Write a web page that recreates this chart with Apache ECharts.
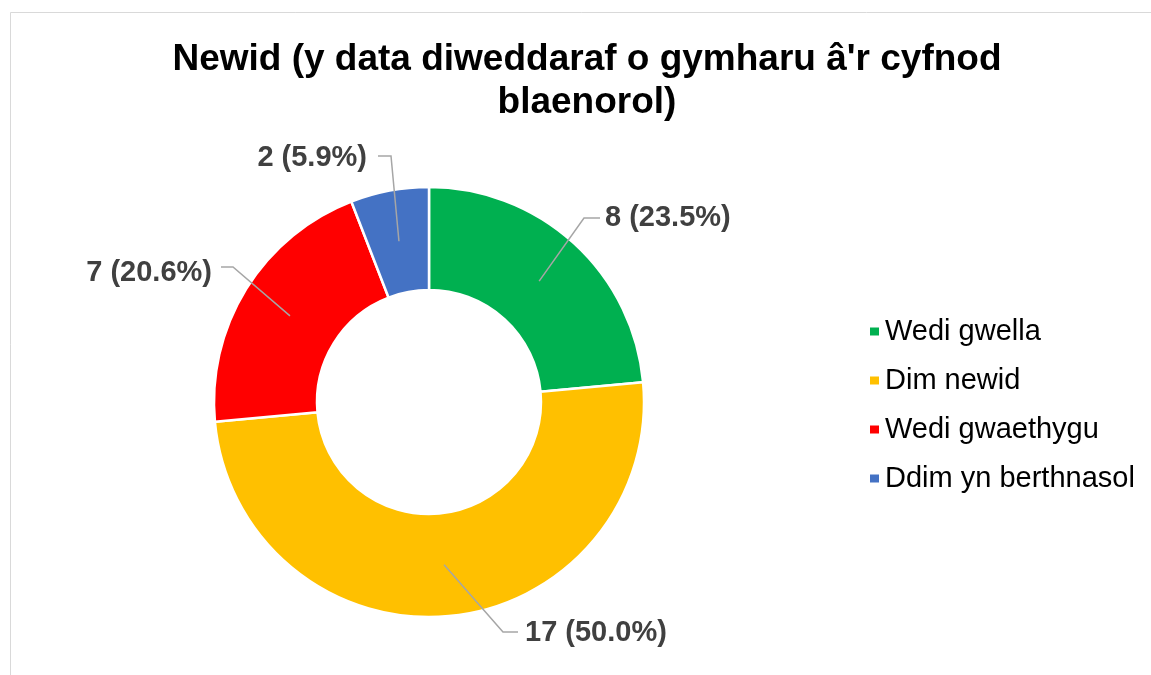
<!DOCTYPE html>
<html>
<head>
<meta charset="utf-8">
<script src="https://cdn.jsdelivr.net/npm/echarts@6/dist/echarts.min.js"></script>
<style>
  html, body { margin: 0; padding: 0; background: #fff; }
  #chart { width: 1151px; height: 675px; }
</style>
</head>
<body>
<div id="chart"></div>
<script>
const categories = ["Wedi gwella", "Dim newid", "Wedi gwaethygu", "Ddim yn berthnasol"];
const values = [8, 17, 7, 2];
const colors = ["#00B050", "#FFC000", "#FF0000", "#4472C4"];

// where each data label sits, and the elbow of its leader line
const labelPos = [
  { x: 605, y: 218, align: "left", lineEnd: [600, 218], elbow: [584, 218] },
  { x: 525, y: 633, align: "left", lineEnd: [518, 632], elbow: [503, 632] },
  { x: 212, y: 273, align: "right", lineEnd: [221, 267], elbow: [233, 267] },
  { x: 367, y: 158, align: "right", lineEnd: [378, 156], elbow: [391, 156] },
];

const center = [429, 402];
const radius = [112, 215];
const total = values.reduce((a, b) => a + b, 0);

// point in the middle of the ring at the middle angle of a slice
function midPoint(i) {
  let before = 0;
  for (let k = 0; k < i; k++) before += values[k];
  const frac = (before + values[i] / 2) / total;
  const ang = frac * Math.PI * 2;
  const r = (radius[0] + radius[1]) / 2;
  return [center[0] + r * Math.sin(ang), center[1] - r * Math.cos(ang)];
}

const chart = echarts.init(document.getElementById("chart"));

const pieData = categories.map((name, i) => ({
  name: name,
  value: values[i],
  itemStyle: { color: colors[i] },
}));

const option = {
  animation: false,
  backgroundColor: "#fff",
  graphic: [
    {
      type: "rect",
      shape: { x: 10.5, y: 12.5, width: 1300, height: 800 },
      style: { fill: "none", stroke: "#d9d9d9", lineWidth: 1 },
      silent: true,
    },
  ],
  title: {
    text: "Newid (y data diweddaraf o gymharu â'r cyfnod\nblaenorol)",
    left: 587,
    textAlign: "center",
    top: 38,
    padding: 0,
    textStyle: {
      fontFamily: "Liberation Sans",
      fontSize: 37,
      fontWeight: "bold",
      color: "#000",
      lineHeight: 43,
    },
  },
  legend: {
    orient: "vertical",
    left: 863,
    top: 312,
    icon: "rect",
    itemWidth: 11,
    itemHeight: 10,
    itemGap: 20,
    data: categories,
    textStyle: {
      fontFamily: "Liberation Sans",
      fontSize: 29,
      lineHeight: 29,
      color: "#000",
    },
  },
  series: [
    {
      // the rings
      type: "pie",
      z: 2,
      center: center,
      radius: radius,
      startAngle: 90,
      clockwise: true,
      itemStyle: { borderColor: "#fff", borderWidth: 2.5 },
      label: { show: false },
      labelLine: { show: false },
      data: pieData,
    },
    {
      // same slices, invisible, carrying labels so leader lines sit on top
      type: "pie",
      z: 3,
      silent: true,
      center: center,
      radius: radius,
      startAngle: 90,
      clockwise: true,
      avoidLabelOverlap: false,
      itemStyle: { color: "rgba(0,0,0,0)", borderWidth: 0 },
      label: {
        show: true,
        position: "outside",
        fontFamily: "Liberation Sans",
        fontSize: 29,
        fontWeight: "bold",
        color: "#404040",
        formatter: (p) => p.value + " (" + ((p.value / total) * 100).toFixed(1) + "%)",
      },
      labelLine: {
        show: true,
        lineStyle: { color: "#a6a6a6", width: 1.5 },
      },
      labelLayout: (params) => {
        const i = params.dataIndex;
        const lp = labelPos[i];
        return {
          x: lp.x,
          y: lp.y,
          align: lp.align,
          verticalAlign: "middle",
          labelLinePoints: [midPoint(i), lp.elbow, lp.lineEnd],
        };
      },
      data: categories.map((name, i) => ({ name: name, value: values[i] })),
    },
  ],
};

chart.setOption(option);
</script>
</body>
</html>
